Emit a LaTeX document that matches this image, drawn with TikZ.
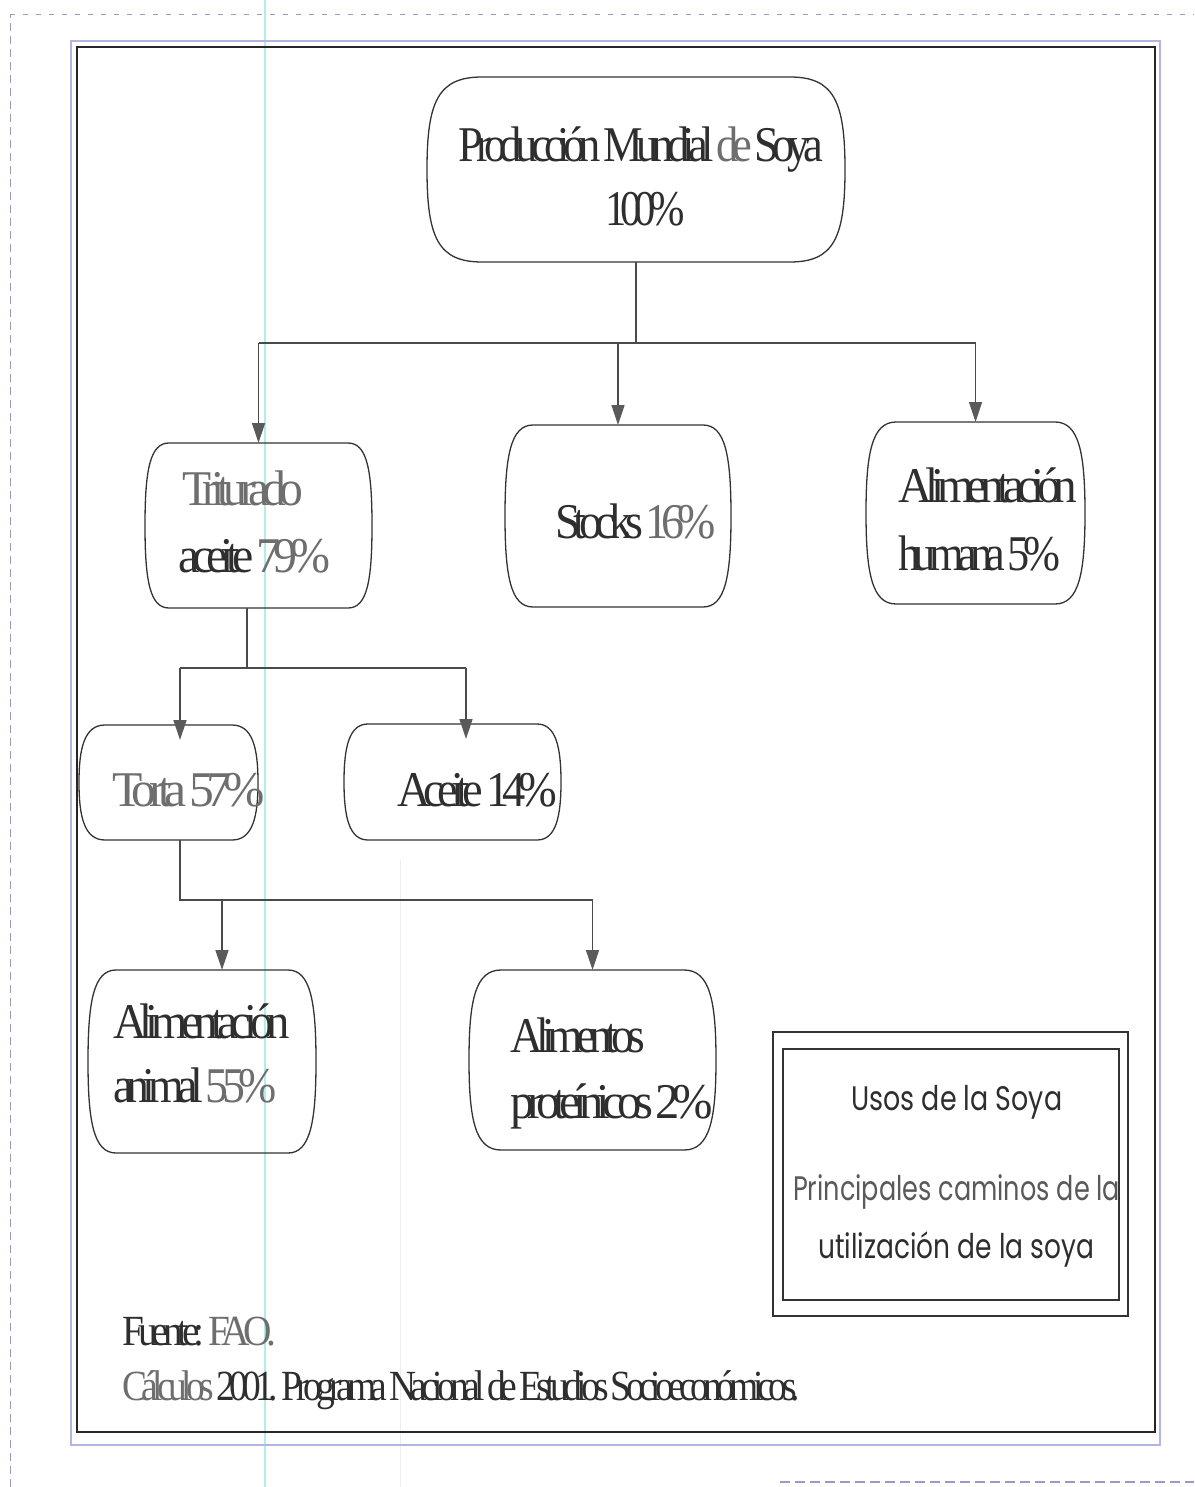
\documentclass[tikz,border=0pt]{standalone}
\usepackage{fontspec}
\usepackage{graphicx}
\usetikzlibrary{calc,fit,arrows.meta}
\newfontfamily\nodefont{Liberation Serif}[LetterSpace=-15, WordSpace=0.55]
\newfontfamily\legfont{Poppins}
\newcommand\fitw[2]{\resizebox{#1pt}{\height}{#2}}
\definecolor{tdark}{HTML}{2E2E2E}
\definecolor{tgray}{HTML}{6E6E6E}
\definecolor{lav}{HTML}{B4B4E0}
\definecolor{pagedash}{HTML}{9A9AC8}
\definecolor{boxc}{HTML}{333333}
\definecolor{linec}{HTML}{4A4A4A}
\definecolor{tipc}{HTML}{5A5A5A}
\definecolor{cyanl}{HTML}{B0EEE8}
% barrel-shaped box: name, x1, y1, x2, y2, corner inset, side control
\newcommand\barrel[7]{%
  \coordinate (#1-nw) at (#2,#3);
  \coordinate (#1-se) at (#4,#5);
  \node[fit=(#1-nw)(#1-se), inner sep=0pt, outer sep=0pt] (#1) {};
  \draw[boxline] ($(#1.north west)+(#6,0)$) -- ($(#1.north east)+(-#6,0)$)
    .. controls ($(#1.north east)+(-0.2*#6,0)$) and ($(#1.east)+(0,-#7)$) .. (#1.east)
    .. controls ($(#1.east)+(0,#7)$) and ($(#1.south east)+(-0.2*#6,0)$) .. ($(#1.south east)+(-#6,0)$)
    -- ($(#1.south west)+(#6,0)$)
    .. controls ($(#1.south west)+(0.2*#6,0)$) and ($(#1.west)+(0,#7)$) .. (#1.west)
    .. controls ($(#1.west)+(0,-#7)$) and ($(#1.north west)+(0.2*#6,0)$) .. cycle;
}
\begin{document}
\begin{tikzpicture}[x=1pt,y=-1pt,
  boxline/.style={draw=boxc, line width=1.3pt},
  conn/.style={draw=linec, line width=1.3pt},
  arr/.style={conn, -{Triangle[width=13pt,length=20pt,color=tipc]}},
  txt/.style={inner sep=0pt, anchor=base west, font=\nodefont\fontsize{50}{56}\selectfont, text=tdark},
  legtxt/.style={inner sep=0pt, anchor=base west, font=\legfont\fontsize{34}{40}\selectfont, text=tdark},
  srctxt/.style={inner sep=0pt, anchor=base west, font=\nodefont\fontsize{43}{48}\selectfont, text=tdark}]
\fill[white] (0,0) rectangle (1194,1487);
\useasboundingbox (0,0) rectangle (1194,1487);

% page marks
\draw[pagedash, line width=1pt, dash pattern=on 8pt off 5pt] (10,1487) -- (10,15);
\draw[pagedash, line width=1pt, dash pattern=on 5pt off 8pt] (10,15) -- (1194,15);
\draw[pagedash, line width=1.6pt, dash pattern=on 10pt off 5pt] (780,1482) -- (1194,1482);
\draw[cyanl, line width=1.2pt] (265,0) -- (265,1487);
\draw[black!7, line width=1pt] (400,860) -- (400,1487);

% frame
\draw[lav, line width=1.4pt] (71,41) rectangle (1160,1445);
\draw[black!85, line width=2pt] (77,47) rectangle (1155,1432);

% boxes
\barrel{top}{427}{77}{845}{262}{55}{68}
\barrel{trit}{145}{443}{372}{608}{24}{55}
\barrel{stocks}{505}{425}{731}{607}{28}{60}
\barrel{hum}{866}{422}{1085}{604}{30}{60}
\barrel{torta}{79}{725}{258}{840}{26}{34}
\barrel{aceite}{344}{724}{561}{840}{24}{34}
\barrel{anim}{88}{970}{316}{1153}{28}{60}
\barrel{prot}{469}{970}{716}{1150}{32}{60}

% connectors
\coordinate (j1) at (636,343);
\draw[conn] (top.south) -- (j1);
\draw[conn] (j1 -| trit.north) -- (j1 -| hum.north);
\draw[arr] (j1 -| trit.north) -- (trit.north);
\draw[arr] (j1 -| stocks.north) -- (stocks.north);
\draw[arr] (j1 -| hum.north) -- (hum.north);

\coordinate (j2) at (247,668);
\coordinate (j2L) at (180,668);
\coordinate (j2R) at (466,668);
\draw[conn] (j2 |- trit.south) -- (j2);
\draw[conn] (j2L) -- (j2R);
\draw[arr, shorten >=-15pt] (j2L) -- (j2L |- torta.north);
\draw[arr, shorten >=-15pt] (j2R) -- (j2R |- aceite.north);

\coordinate (j3) at (180,900);
\coordinate (j3L) at (222,900);
\draw[conn] (j3 |- torta.south) -- (j3) -- (j3 -| prot.north);
\draw[arr] (j3L) -- (j3L |- anim.north);
\draw[arr] (j3 -| prot.north) -- (prot.north);

% box texts
\node[txt] (top-t1) at (458,162) {\fitw{365}{Producción Mundial {\color{tgray}de} Soya}};
\node[txt] (top-t2) at (605,226) {\fitw{80}{100\%}};
\node[txt, text=tgray] (trit-t1) at (182,505) {\fitw{121}{Triturado}};
\node[txt] (trit-t2) at (178,572) {\fitw{152}{aceite {\color{tgray}79\%}}};
\node[txt] (stocks-t) at (555,538) {\fitw{161}{Stocks {\color{tgray}16\%}}};
\node[txt] (hum-t1) at (898,502) {\fitw{179}{Alimentación}};
\node[txt] (hum-t2) at (898,570) {\fitw{162}{humana 5\%}};
\node[txt, text=tgray] (torta-t) at (112,806) {\fitw{153}{Torta 57\%}};
\node[txt] (aceite-t) at (397,806) {\fitw{160}{Aceite 14\%}};
\node[txt] (anim-t1) at (113,1038) {\fitw{177}{Alimentación}};
\node[txt] (anim-t2) at (113,1102) {\fitw{163}{animal {\color{tgray}55\%}}};
\node[txt] (prot-t1) at (510,1052) {\fitw{135}{Alimentos}};
\node[txt] (prot-t2) at (510,1118) {\fitw{203}{proteínicos 2\%}};

% legend
\coordinate (lg-nw) at (773,1032);
\coordinate (lg-se) at (1128,1316);
\node[fit=(lg-nw)(lg-se), inner sep=0pt, draw=boxc, line width=1.3pt] (legend) {};
\coordinate (li-nw) at (783,1049);
\coordinate (li-se) at (1119,1300);
\node[fit=(li-nw)(li-se), inner sep=0pt, draw=boxc, line width=1.3pt] (legin) {};
\node[legtxt] (leg-t1) at (851,1110) {\fitw{211}{Usos de la Soya}};
\node[legtxt, text=black!65] (leg-t2) at (793,1200) {\fitw{327}{Principales caminos de la}};
\node[legtxt] (leg-t3) at (818,1258) {\fitw{276}{utilización de la soya}};

% source
\node[srctxt] (src1) at (122,1345) {\fitw{154}{Fuente: {\color{tgray}FAO.}}};
\node[srctxt] (src2) at (122,1400) {\fitw{678}{{\color{tgray}Cálculos} 2001. Programa Nacional de Estudios Socioeconómicos.}};
\end{tikzpicture}
\end{document}
